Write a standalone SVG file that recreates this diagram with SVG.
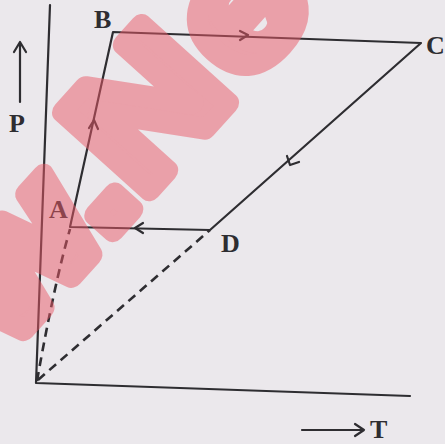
<svg xmlns="http://www.w3.org/2000/svg" width="445" height="444" viewBox="0 0 445 444">
<style>
.ln{stroke:#2e2d31;stroke-width:2.2;fill:none;stroke-linecap:round;stroke-linejoin:round}
.ds{stroke:#2e2d31;stroke-width:2.6;fill:none;stroke-dasharray:9 6}
.lb{font-family:"Liberation Serif",serif;font-size:26px;font-weight:bold;fill:#2e2d31}
.wm{font-family:"Liberation Sans",sans-serif;font-weight:bold;fill:#ea5a68;stroke:#ea5a68;stroke-width:20;stroke-linejoin:round;opacity:0.5}
</style>
<rect width="445" height="444" fill="#ebe8ec"/>
<g id="axes">
<path class="ln" d="M50,5 L36,383 L410,396"/>
<path class="ln" d="M20,102 L20,42 M14,52 L20,42 L26,52"/>
<path class="ln" d="M302,430 L364,430 M355,424 L364,430 L355,436"/>
</g>
<g id="connectors">
<path class="ln" d="M70,227 L113,32 L421,43 L210,230 Z"/>
<path class="ln" d="M89,128 L94,120 L98,129"/>
<path class="ln" d="M240,31 L248,35 L240,40"/>
<path class="ln" d="M287,156 L290,165 L299,162"/>
<path class="ln" d="M143,223 L135,228 L143,233"/>
<path class="ds" d="M37,381 Q54,285 70,229"/>
<path class="ds" d="M38,380 L210,230"/>
</g>
<g id="node-A"><text class="lb" x="49" y="218">A</text></g>
<g id="node-B"><text class="lb" x="94" y="28">B</text></g>
<g id="node-C"><text class="lb" x="426" y="54" font-size="25">C</text></g>
<g id="node-D"><text class="lb" x="221" y="252">D</text></g>
<g id="label-P"><text class="lb" x="9" y="132">P</text></g>
<g id="label-T"><text class="lb" x="370" y="438" font-size="25">T</text></g>
<g id="watermark">
<text class="wm" font-size="172" transform="translate(7,350) rotate(-48) scale(1.15,1)">w.N<tspan dx="8">e</tspan></text>
</g>
</svg>
